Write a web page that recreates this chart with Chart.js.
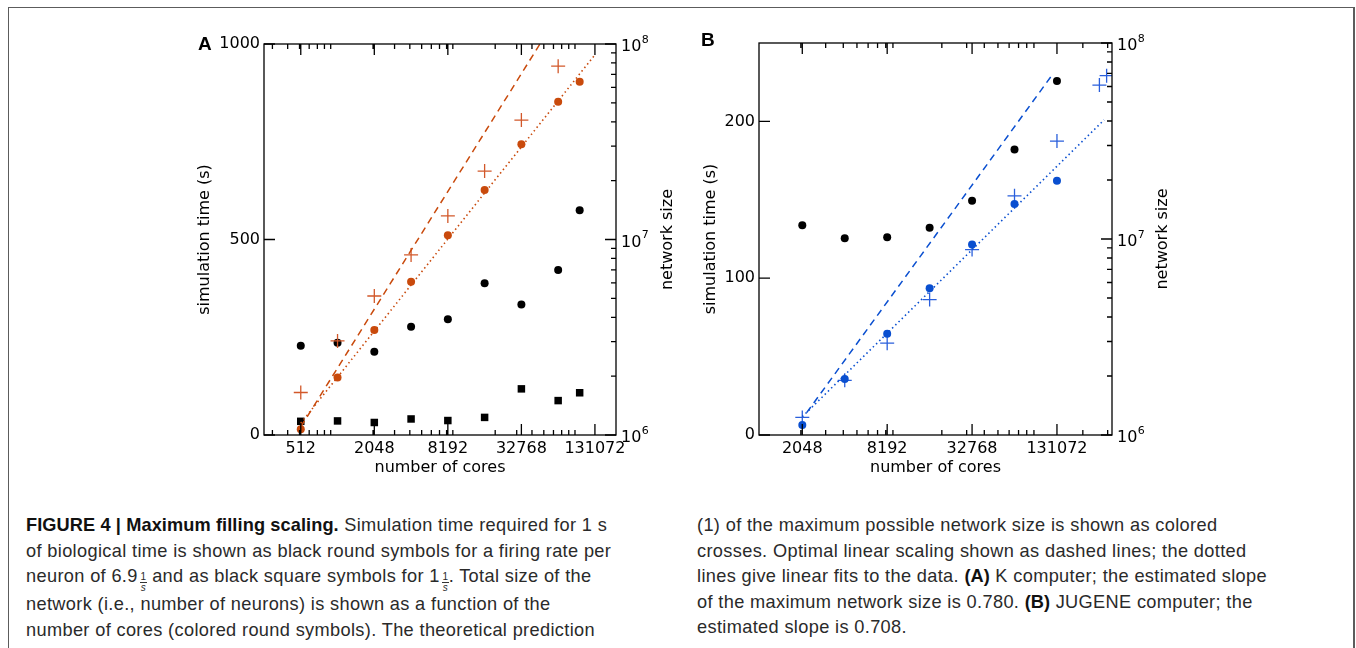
<!DOCTYPE html>
<html lang="en">
<head>
<meta charset="UTF-8">
<title>Maximum filling scaling</title>
<style>
    body {
        margin: 0;
        padding: 0;
        width: 1356px;
        height: 648px;
        overflow: hidden;
        background: #fff;
        position: relative;
        font-family: 'Liberation Sans', Arial, sans-serif;
    }

    .frame {
        position: absolute;
        left: 8px;
        top: 7px;
        width: 1344px;
        height: 700px;
        border: 1px solid #5c5c5c;
        border-right-width: 2px;
    }

    .panel {
        position: absolute;
        top: 14px;
        height: 486px;
    }
    #panelA { left: 180px; width: 520px; }
    #panelB { left: 700px; width: 510px; }

    .tag {
        position: absolute;
        font-weight: bold;
        font-size: 19px;
        color: #000;
    }

    .caption {
        position: absolute;
        top: 513px;
        font-size: 18.2px;
        letter-spacing: 0.35px;
        line-height: 25.5px;
        color: #2a2a2a;
        white-space: nowrap;
    }
    .caption b { color: #111; letter-spacing: 0.1px; }

    /* small stacked fraction 1/s */
    .frac {
        display: inline-flex;
        flex-direction: column;
        align-items: center;
        font-size: 10px;
        line-height: 9.5px;
        letter-spacing: 0;
        vertical-align: 2px;
        margin: 0 0 0 2px;
    }
    .frac span + span {
        border-top: 0.8px solid #333;
        font-style: italic;
        padding: 0 1px;
    }
</style>
</head>
<body>
    <div class="frame"></div>

    <div class="panel" id="panelA"><canvas id="chartA"></canvas></div>
    <div class="panel" id="panelB"><canvas id="chartB"></canvas></div>

    <div class="tag" style="left:198px; top:33px;">A</div>
    <div class="tag" style="left:701px; top:29px;">B</div>

    <div class="caption" style="left:26px;">
        <div><b>FIGURE 4 | Maximum filling scaling.</b> Simulation time required for 1 s</div>
        <div>of biological time is shown as black round symbols for a firing rate per</div>
        <div>neuron of 6.9<span class="frac"><span>1</span><span>s</span></span> and as black square symbols for 1<span class="frac"><span>1</span><span>s</span></span>. Total size of the</div>
        <div>network (i.e., number of neurons) is shown as a function of the</div>
        <div>number of cores (colored round symbols). The theoretical prediction</div>
    </div>
    <div class="caption" style="left:697px;">
        <div>(1) of the maximum possible network size is shown as colored</div>
        <div>crosses. Optimal linear scaling shown as dashed lines; the dotted</div>
        <div>lines give linear fits to the data. <b>(A)</b> K computer; the estimated slope</div>
        <div>of the maximum network size is 0.780. <b>(B)</b> JUGENE computer; the</div>
        <div>estimated slope is 0.708.</div>
    </div>

<script src="https://cdn.jsdelivr.net/npm/chart.js"></script>
<script>
// ---- Panel A: K computer ----
const coresA = [512, 1024, 2048, 4096, 8192, 16384, 32768, 65536, 98304];
const timeRoundA = [228, 236, 213, 277, 296, 388, 334, 422, 575];   // 6.9 1/s
const timeSquareA = [35, 36, 32, 41, 37, 45, 118, 88, 108];         // 1 1/s
const sizeA = [1.07e6, 1.97e6, 3.44e6, 6.08e6, 1.05e7, 1.79e7, 3.07e7, 5.07e7, 6.41e7];
const maxCoresA = [512, 1024, 2048, 4096, 8192, 16384, 32768, 65536];
const maxSizeA = [1.65e6, 3.03e6, 5.14e6, 8.34e6, 1.32e7, 2.24e7, 4.08e7, 7.7e7];
const optimalCoresA = [512, 46500];
const optimalSizeA = [1.1e6, 1.0e8];
const fitCoresA = [512, 131072];
const fitSizeA = [1.15e6, 8.8e7];
const xTicksA = [512, 2048, 8192, 32768, 131072];
const timeTicksA = [0, 500, 1000];

// ---- Panel B: JUGENE ----
const coresB = [2048, 4096, 8192, 16384, 32768, 65536, 131072];
const timeRoundB = [133.7, 125.4, 126.1, 132.2, 149.4, 182, 225.8];
const sizeB = [1.125e6, 1.93e6, 3.29e6, 5.6e6, 9.37e6, 1.51e7, 1.98e7];
const maxCoresB = [2048, 4096, 8192, 16384, 32768, 65536, 131072, 262144, 294912];
const maxSizeB = [1.23e6, 1.90e6, 2.94e6, 4.91e6, 8.83e6, 1.66e7, 3.16e7, 6.1e7, 6.81e7];
const optimalCoresB = [2200, 119000];
const optimalSizeB = [1.3e6, 6.75e7];
const fitCoresB = [2048, 283000];
const fitSizeB = [1.24e6, 4.05e7];
const xTicksB = [2048, 8192, 32768, 131072];
const timeTicksB = [0, 100, 200];

const sizeTicks = [1e6, 1e7, 1e8];

const ORANGE = '#c94a0c';
const ORANGE_CROSS = '#d2582a';
const BLUE = '#0a4fd0';
const BLUE_CROSS = '#2a5fdc';

const FONT = "'DejaVu Sans', sans-serif";
Chart.defaults.font.family = FONT;
Chart.defaults.font.size = 16;
Chart.defaults.color = '#000';

// minor ticks of a log axis (2..9 x 10^n) between lo and hi
function logMinors(lo, hi) {
    const out = [];
    for (let e = Math.floor(Math.log10(lo)); e <= Math.ceil(Math.log10(hi)); e++) {
        for (let m = 2; m <= 9; m++) {
            const v = m * Math.pow(10, e);
            if (v > lo && v < hi) out.push(v);
        }
    }
    return out;
}

function pts(xs, ys) {
    return xs.map((x, i) => ({x: x, y: ys[i]}));
}

// box around the plot, inward ticks on all four sides,
// 10^n labels and the right axis title (reads bottom to top like the left one)
const frameTicks = {
    id: 'frameTicks',
    afterDatasetsDraw(chart, args, opts) {
        const {ctx, chartArea: a, scales} = chart;
        ctx.save();
        ctx.strokeStyle = '#000';
        ctx.lineWidth = 1.3;
        ctx.strokeRect(a.left, a.top, a.right - a.left, a.bottom - a.top);
        ctx.beginPath();
        const line = (x1, y1, x2, y2) => { ctx.moveTo(x1, y1); ctx.lineTo(x2, y2); };
        opts.xMajor.forEach(v => {
            const p = scales.x.getPixelForValue(v);
            line(p, a.bottom, p, a.bottom - 11);
            line(p, a.top, p, a.top + 11);
        });
        opts.xMinor.forEach(v => {
            const p = scales.x.getPixelForValue(v);
            line(p, a.bottom, p, a.bottom - 5);
            line(p, a.top, p, a.top + 5);
        });
        opts.yMajor.forEach(v => {
            const p = scales.y.getPixelForValue(v);
            line(a.left, p, a.left + 11, p);
        });
        sizeTicks.forEach(v => {
            const p = scales.y2.getPixelForValue(v);
            line(a.right, p, a.right - 11, p);
        });
        logMinors(1e6, 1e8).forEach(v => {
            const p = scales.y2.getPixelForValue(v);
            line(a.right, p, a.right - 5, p);
        });
        ctx.stroke();

        // 10^n tick labels
        ctx.fillStyle = '#000';
        ctx.textBaseline = 'middle';
        ctx.textAlign = 'left';
        sizeTicks.forEach(v => {
            const p = scales.y2.getPixelForValue(v);
            const x = a.right + 5;
            ctx.font = '16px ' + FONT;
            ctx.fillText('10', x, p + 3);
            const w = ctx.measureText('10').width;
            ctx.font = '11px ' + FONT;
            ctx.fillText(String(Math.round(Math.log10(v))), x + w + 0.5, p - 4);
        });

        // right axis title
        ctx.font = '16px ' + FONT;
        ctx.textAlign = 'center';
        ctx.translate(scales.y2.right - opts.rightTitleOffset, (a.top + a.bottom) / 2);
        ctx.rotate(-Math.PI / 2);
        ctx.fillText('network size', 0, 0);
        ctx.restore();
    }
};

function makeChart(id, cfg) {
    const datasets = [
        {
            label: 'optimal', type: 'line', yAxisID: 'y2',
            data: pts(cfg.optimalCores, cfg.optimalSize),
            borderColor: cfg.color, borderWidth: 1.5, borderDash: [7, 5],
            pointRadius: 0, fill: false
        },
        {
            label: 'fit', type: 'line', yAxisID: 'y2',
            data: pts(cfg.fitCores, cfg.fitSize),
            borderColor: cfg.color, borderWidth: 1.6, borderDash: [1.5, 3],
            pointRadius: 0, fill: false
        },
        {
            label: 'network size', yAxisID: 'y2',
            data: pts(cfg.cores, cfg.size),
            pointStyle: 'circle', pointRadius: 4, borderWidth: 0,
            backgroundColor: cfg.color
        },
        {
            label: 'max network size', yAxisID: 'y2',
            data: pts(cfg.maxCores, cfg.maxSize),
            pointStyle: 'cross', pointRadius: 7, borderWidth: 1.3,
            borderColor: cfg.crossColor
        },
        {
            label: 'time 6.9/s', yAxisID: 'y',
            data: pts(cfg.cores, cfg.timeRound),
            pointStyle: 'circle', pointRadius: 4, borderWidth: 0,
            backgroundColor: '#000'
        }
    ];
    if (cfg.timeSquare) {
        datasets.push({
            label: 'time 1/s', yAxisID: 'y',
            data: pts(cfg.cores, cfg.timeSquare),
            pointStyle: 'rect', pointRadius: 5.3, borderWidth: 0,
            backgroundColor: '#000'
        });
    }

    return new Chart(document.getElementById(id), {
        type: 'scatter',
        data: {datasets: datasets},
        plugins: [frameTicks],
        options: {
            responsive: true,
            maintainAspectRatio: false,
            animation: false,
            layout: {padding: {top: cfg.padTop, left: 0, right: 0, bottom: 0}},
            plugins: {
                legend: {display: false},
                tooltip: {enabled: false},
                frameTicks: {
                    xMajor: cfg.xTicks,
                    xMinor: logMinors(cfg.xMin, cfg.xMax),
                    yMajor: cfg.timeTicks,
                    rightTitleOffset: cfg.rightTitleOffset
                }
            },
            scales: {
                x: {
                    type: 'logarithmic',
                    min: cfg.xMin, max: cfg.xMax,
                    grid: {display: false, drawTicks: false},
                    border: {display: false},
                    afterBuildTicks: s => { s.ticks = cfg.xTicks.map(v => ({value: v})); },
                    afterFit: s => { s.height = 65; },
                    ticks: {padding: 4, maxRotation: 0, callback: v => String(v)},
                    title: {display: true, text: 'number of cores', padding: {top: 0, bottom: 23}}
                },
                y: {
                    type: 'linear', position: 'left',
                    min: 0, max: cfg.timeMax,
                    grid: {display: false, drawTicks: false},
                    border: {display: false},
                    afterBuildTicks: s => { s.ticks = cfg.timeTicks.map(v => ({value: v})); },
                    afterFit: s => { s.width = cfg.leftW; },
                    ticks: {padding: 4, callback: v => String(v)},
                    title: {display: true, text: 'simulation time (s)', padding: {top: cfg.leftTitlePad, bottom: 0}}
                },
                y2: {
                    type: 'logarithmic', position: 'right',
                    min: 1e6, max: 1e8,
                    grid: {display: false, drawTicks: false},
                    border: {display: false},
                    afterBuildTicks: s => { s.ticks = sizeTicks.map(v => ({value: v})); },
                    afterFit: s => { s.width = cfg.rightW; },
                    ticks: {display: false}
                }
            }
        }
    });
}

makeChart('chartA', {
    color: ORANGE, crossColor: ORANGE_CROSS,
    cores: coresA, timeRound: timeRoundA, timeSquare: timeSquareA, size: sizeA,
    maxCores: maxCoresA, maxSize: maxSizeA,
    optimalCores: optimalCoresA, optimalSize: optimalSizeA,
    fitCores: fitCoresA, fitSize: fitSizeA,
    xTicks: xTicksA, timeTicks: timeTicksA,
    xMin: 256, xMax: 195000, timeMax: 1000,
    padTop: 30, leftW: 84, rightW: 84, leftTitlePad: 15, rightTitleOffset: 32
});

makeChart('chartB', {
    color: BLUE, crossColor: BLUE_CROSS,
    cores: coresB, timeRound: timeRoundB, timeSquare: null, size: sizeB,
    maxCores: maxCoresB, maxSize: maxSizeB,
    optimalCores: optimalCoresB, optimalSize: optimalSizeB,
    fitCores: fitCoresB, fitSize: fitSizeB,
    xTicks: xTicksB, timeTicks: timeTicksB,
    xMin: 1010, xMax: 322000, timeMax: 250,
    padTop: 29, leftW: 59, rightW: 98, leftTitlePad: 1, rightTitleOffset: 47
});
</script>
</body>
</html>
